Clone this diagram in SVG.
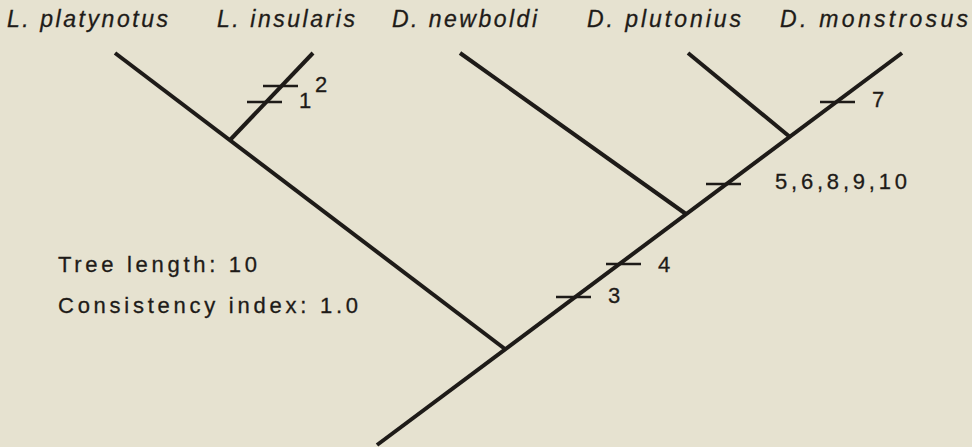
<svg xmlns="http://www.w3.org/2000/svg" width="972" height="447" viewBox="0 0 972 447">
<style>
.bg{fill:#e6e2d0}
.br{stroke:#1e1b18;stroke-width:4;stroke-linecap:butt;fill:none}
.tk{stroke:#1e1b18;stroke-width:2.5;fill:none}
.sp{font-family:"Liberation Sans",Arial,sans-serif;font-style:italic;font-size:23px;fill:#1e1b18;stroke:#1e1b18;stroke-width:0.3}
.lb{font-family:"Liberation Sans",Arial,sans-serif;font-size:22px;fill:#1e1b18;stroke:#1e1b18;stroke-width:0.3}
</style>
<rect class="bg" x="0" y="0" width="972" height="447"/>
<g id="taxa">
<text class="sp" x="7" y="27" textLength="161" lengthAdjust="spacing">L. platynotus</text>
<text class="sp" x="217" y="27" textLength="138" lengthAdjust="spacing">L. insularis</text>
<text class="sp" x="392" y="27" textLength="145" lengthAdjust="spacing">D. newboldi</text>
<text class="sp" x="587" y="27" textLength="154" lengthAdjust="spacing">D. plutonius</text>
<text class="sp" x="780" y="27" textLength="188" lengthAdjust="spacing">D. monstrosus</text>
</g>
<g id="connectors">
<line class="br" x1="377" y1="445" x2="902" y2="53"/>
<line class="br" x1="505" y1="349" x2="115" y2="53"/>
<line class="br" x1="230" y1="140" x2="313" y2="53"/>
<line class="br" x1="686" y1="214" x2="460" y2="53"/>
<line class="br" x1="790" y1="137" x2="688" y2="53"/>
</g>
<g id="characters">
<line class="tk" x1="263" y1="86" x2="298" y2="86"/>
<line class="tk" x1="247" y1="102" x2="282" y2="102"/>
<line class="tk" x1="820" y1="102" x2="855" y2="102"/>
<line class="tk" x1="706" y1="184" x2="741" y2="184"/>
<line class="tk" x1="606" y1="264" x2="641" y2="264"/>
<line class="tk" x1="556" y1="297" x2="591" y2="297"/>
<text class="lb" x="299" y="108">1</text>
<text class="lb" x="315" y="92">2</text>
<text class="lb" x="872" y="107">7</text>
<text class="lb" x="775" y="189" textLength="132" lengthAdjust="spacing">5,6,8,9,10</text>
<text class="lb" x="658" y="272">4</text>
<text class="lb" x="608" y="303">3</text>
</g>
<g id="stats">
<text class="lb" x="58" y="272" textLength="199" lengthAdjust="spacing">Tree length: 10</text>
<text class="lb" x="58" y="313" textLength="300" lengthAdjust="spacing">Consistency index: 1.0</text>
</g>
</svg>
